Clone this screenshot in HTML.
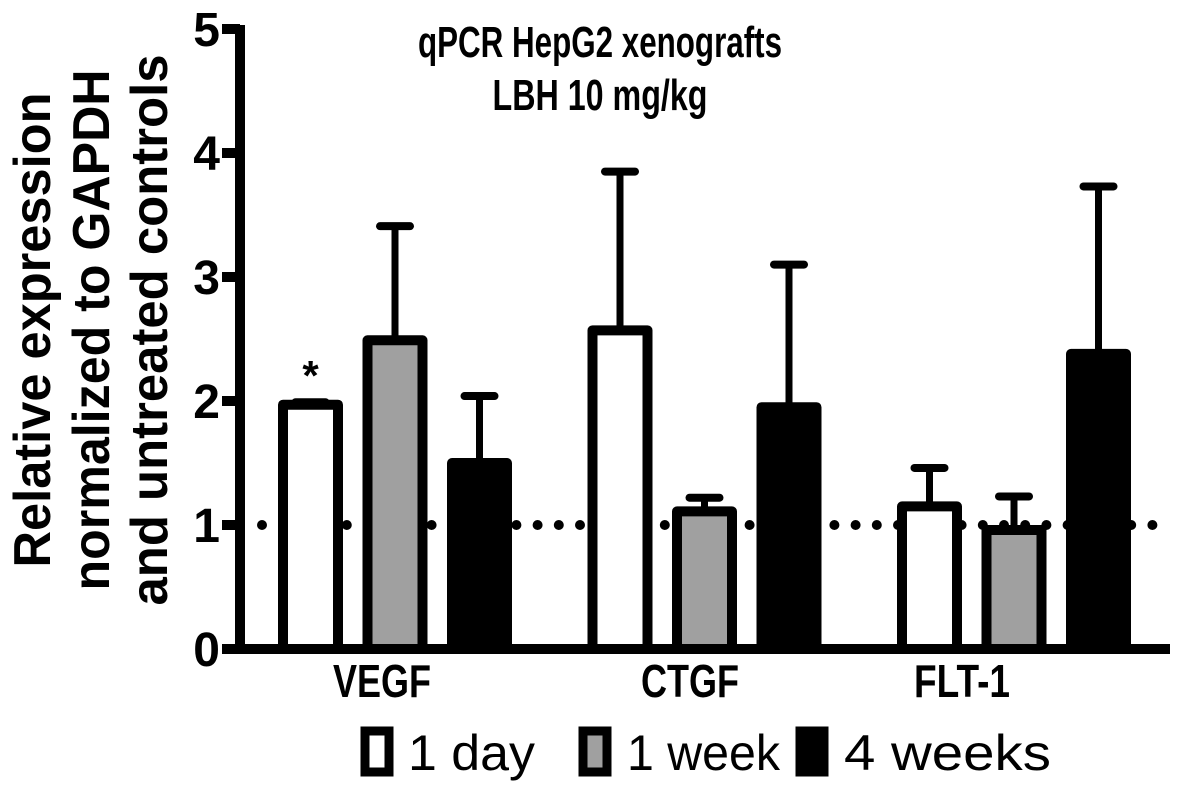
<!DOCTYPE html>
<html><head><meta charset="utf-8"><style>
html,body{margin:0;padding:0;background:#fff}
svg text{font-family:"Liberation Sans",Arial,sans-serif}
</style></head><body>
<svg id="chart" width="1181" height="789" viewBox="0 0 1181 789">
<g id="marks"></g>
<text x="600" y="57" text-anchor="middle" font-size="44" font-weight="bold" textLength="364" lengthAdjust="spacingAndGlyphs">qPCR HepG2 xenografts</text>
<text x="600" y="110" text-anchor="middle" font-size="44" font-weight="bold" textLength="215" lengthAdjust="spacingAndGlyphs">LBH 10 mg/kg</text>
<g transform="translate(50,330) rotate(-90)">
<text x="0" y="0" text-anchor="middle" font-size="52" font-weight="bold" textLength="475" lengthAdjust="spacingAndGlyphs">Relative expression</text>
<text x="0" y="59" text-anchor="middle" font-size="52" font-weight="bold" textLength="521" lengthAdjust="spacingAndGlyphs">normalized to GAPDH</text>
<text x="0" y="117" text-anchor="middle" font-size="52" font-weight="bold" textLength="551" lengthAdjust="spacingAndGlyphs">and untreated controls</text>
</g>
<g>
<rect x="365" y="731" width="24" height="41" fill="#fff" stroke="#000" stroke-width="9"/>
<text x="408" y="770" font-size="50" textLength="127" lengthAdjust="spacingAndGlyphs">1 day</text>
<rect x="583" y="731" width="24" height="41" fill="#a0a0a0" stroke="#000" stroke-width="9"/>
<text x="627" y="770" font-size="50" textLength="153" lengthAdjust="spacingAndGlyphs">1 week</text>
<rect x="800" y="731" width="24" height="41" fill="#000" stroke="#000" stroke-width="9"/>
<text x="844" y="770" font-size="50" textLength="207" lengthAdjust="spacingAndGlyphs">4 weeks</text>
</g>
</svg>
<script>
const categories = ["VEGF","CTGF","FLT-1"];
const seriesNames = ["1 day","1 week","4 weeks"];
const day1 = [1.97, 2.57, 1.15];
const week1 = [2.49, 1.11, 0.96];
const weeks4 = [1.50, 1.95, 2.38];
const day1Err = [1.99, 3.85, 1.46];
const week1Err = [3.41, 1.22, 1.23];
const weeks4Err = [2.04, 3.10, 3.73];
const yTicks = [0,1,2,3,4,5];
const baselineValue = 1;

const NS = "http://www.w3.org/2000/svg";
const g = document.getElementById("marks");
const Y0 = 649, UNIT = 124;
function y(v){ return Y0 - v*UNIT; }
function groupX(i){ return 283 + i*309.5; }
function barX(i,s){ return groupX(i) + s*84.5; }
const labelX = [382, 690, 962];
const BW = 55;
function mk(tag, attrs){ const e=document.createElementNS(NS,tag); for(const k in attrs) e.setAttribute(k,attrs[k]); g.appendChild(e); return e; }

for(let x=262; x<1172; x+=21.2){
  const d = mk("circle",{cx:x, cy:y(baselineValue), r:5, fill:"#000"});
  
  
}

const vals=[day1,week1,weeks4], errs=[day1Err,week1Err,weeks4Err], fills=["#fff","#a0a0a0","#000"];
const keys=["1-day","1-week","4-weeks"];
categories.forEach((c,i)=>{
  for(let s=0;s<3;s++){
    const bx=barX(i,s), cx=bx+BW/2;
    const ev=errs[s][i], v=vals[s][i];
    const el=mk("line",{x1:cx,x2:cx,y1:y(ev),y2:y(v),stroke:"#000","stroke-width":7});
    
    
    const cap=mk("line",{x1:cx-15,x2:cx+15,y1:y(ev),y2:y(ev),stroke:"#000","stroke-width":8,"stroke-linecap":"round"});
    
    
    const r=mk("rect",{x:bx,y:y(v),width:BW,height:Y0-y(v),fill:fills[s],stroke:"#000","stroke-width":10,"stroke-linejoin":"round"});
    
    
  }
  const t=mk("text",{x:labelX[i],y:697,"text-anchor":"middle","font-size":46,"font-weight":"bold",textLength:(c==="FLT-1"?96:98),lengthAdjust:"spacingAndGlyphs"});
  t.textContent=c;
  
  
});

const ya=mk("line",{x1:240,x2:240,y1:y(5)-4,y2:Y0+5,stroke:"#000","stroke-width":10});


const xa=mk("line",{x1:222,x2:1170,y1:Y0,y2:Y0,stroke:"#000","stroke-width":10});


yTicks.forEach(v=>{
  const tk=mk("line",{x1:222,x2:240,y1:y(v),y2:y(v),stroke:"#000","stroke-width":10});
  
  
  const tl=mk("text",{x:220,y:y(v)+17,"text-anchor":"end","font-size":48,"font-weight":"bold"});
  tl.textContent=String(v);
  
  
});
const star=mk("text",{x:barX(0,0)+BW/2,y:y(day1Err[0])-12,"text-anchor":"middle","font-size":42,"font-weight":"bold"});
star.textContent="*";


</script>
</body></html>
